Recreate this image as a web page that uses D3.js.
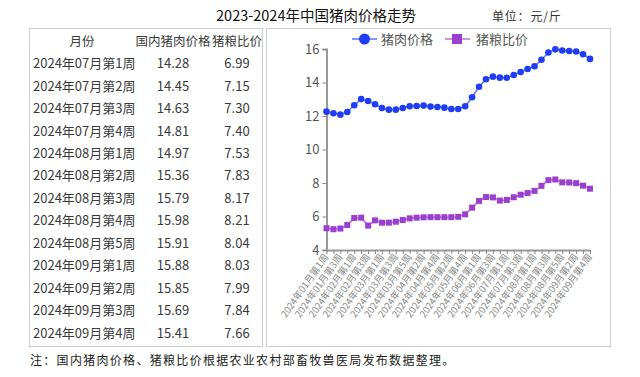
<!DOCTYPE html>
<html><head><meta charset="utf-8">
<script src="https://cdn.jsdelivr.net/npm/d3@7"></script>
<style>
html,body{margin:0;padding:0;background:#fff;}
text{font-family:"Noto Sans CJK SC","Noto Sans",sans-serif;}
</style></head>
<body><svg id="c" width="640" height="377"></svg>
<script>
const weekLabels = [
 "2024年01月第1周","2024年01月第2周","2024年01月第3周","2024年01月第4周",
 "2024年02月第1周","2024年02月第2周","2024年02月第3周","2024年02月第4周",
 "2024年03月第1周","2024年03月第2周","2024年03月第3周","2024年03月第4周","2024年03月第5周",
 "2024年04月第1周","2024年04月第2周","2024年04月第3周","2024年04月第4周",
 "2024年05月第1周","2024年05月第2周","2024年05月第3周","2024年05月第4周","2024年05月第5周",
 "2024年06月第1周","2024年06月第2周","2024年06月第3周","2024年06月第4周",
 "2024年07月第1周","2024年07月第2周","2024年07月第3周","2024年07月第4周",
 "2024年08月第1周","2024年08月第2周","2024年08月第3周","2024年08月第4周","2024年08月第5周",
 "2024年09月第1周","2024年09月第2周","2024年09月第3周","2024年09月第4周"
];
const pigPrice = [12.26,12.16,12.08,12.24,12.64,13.01,12.90,12.70,12.48,12.38,12.38,12.48,12.58,
 12.60,12.62,12.56,12.54,12.50,12.42,12.42,12.58,13.12,13.75,14.19,14.35,14.29,
 14.28,14.45,14.63,14.81,14.97,15.36,15.79,15.98,15.91,15.88,15.85,15.69,15.41];
const pigGrainRatio = [5.30,5.24,5.28,5.49,5.91,5.93,5.46,5.77,5.63,5.63,5.69,5.79,5.89,
 5.93,5.95,5.96,5.96,5.96,5.96,5.98,6.13,6.53,6.93,7.16,7.14,6.95,
 6.99,7.15,7.30,7.40,7.53,7.83,8.17,8.21,8.04,8.03,7.99,7.84,7.66];
const yTicks = [4,6,8,10,12,14,16];
const seriesNames = ["猪肉价格","猪粮比价"];

const tableHeader = ["月份","国内猪肉价格","猪粮比价"];
const tableWeeks = ["2024年07月第1周","2024年07月第2周","2024年07月第3周","2024年07月第4周",
 "2024年08月第1周","2024年08月第2周","2024年08月第3周","2024年08月第4周","2024年08月第5周",
 "2024年09月第1周","2024年09月第2周","2024年09月第3周","2024年09月第4周"];
const tablePrice = ["14.28","14.45","14.63","14.81","14.97","15.36","15.79","15.98","15.91","15.88","15.85","15.69","15.41"];
const tableRatio = ["6.99","7.15","7.30","7.40","7.53","7.83","8.17","8.21","8.04","8.03","7.99","7.84","7.66"];

const titleText = "2023-2024年中国猪肉价格走势";
const unitText = "单位：元/斤";
const noteText = "注：国内猪肉价格、猪粮比价根据农业农村部畜牧兽医局发布数据整理。";

const svg = d3.select("#c");

// title
svg.append("text").attr("x",316).attr("y",21).attr("text-anchor","middle")
  .attr("font-size",14.5).attr("fill","#111").text(titleText);
svg.append("text").attr("x",492).attr("y",21).attr("letter-spacing",0.8)
  .attr("font-size",12).attr("fill","#333").text(unitText);

// boxes
svg.append("rect").attr("x",29.5).attr("y",28.5).attr("width",233).attr("height",318)
  .attr("fill","none").attr("stroke","#cfcfcf");
svg.append("rect").attr("x",266.5).attr("y",28.5).attr("width",344).attr("height",318)
  .attr("fill","none").attr("stroke","#cfcfcf");

// table
const colX = [82,173,237];
const rowY = d3.scaleLinear().domain([0,1]).range([41.7,63.6]);
tableHeader.forEach((h,i)=>{
  svg.append("text").attr("x",colX[i]).attr("y",rowY(0)).attr("dy","0.35em")
    .attr("text-anchor","middle").attr("font-size",12.5).attr("fill","#3a3a3a").text(h);
});
const tg = svg.append("g");
tableWeeks.forEach((w,i)=>{
  const y = rowY(i+1) + i*0.55;
  tg.append("text").attr("x",33).attr("y",y).attr("dy","0.35em")
    .attr("font-size",13).attr("fill","#3a3a3a").text(w);
  tg.append("text").attr("x",colX[1]).attr("y",y).attr("dy","0.35em").attr("text-anchor","middle")
    .attr("font-size",13).attr("fill","#3a3a3a").text(tablePrice[i]);
  tg.append("text").attr("x",colX[2]).attr("y",y).attr("dy","0.35em").attr("text-anchor","middle")
    .attr("font-size",13).attr("fill","#3a3a3a").text(tableRatio[i]);
});

// chart
const x = d3.scalePoint().domain(weekLabels).range([326.5,590]).padding(0);
const y = d3.scaleLinear().domain([4,16]).range([250,49]);

const yAxis = svg.append("g").attr("transform","translate(326.5,0)")
  .call(d3.axisLeft(y).tickValues(yTicks).tickSize(4).tickPadding(3));
yAxis.select(".domain").attr("stroke","#999").attr("stroke-width",2);
yAxis.selectAll(".tick line").attr("stroke","#888");
yAxis.selectAll(".tick text").attr("font-size",13).attr("fill","#555")
  .attr("font-family","'Noto Sans','Noto Sans CJK SC',sans-serif");

const xAxis = svg.append("g").attr("transform","translate(0,250)")
  .call(d3.axisBottom(x).tickSize(4).tickSizeOuter(0).tickFormat((d,i)=> i%2===0 ? d : ""));
xAxis.select(".domain").attr("stroke","#999").attr("stroke-width",2);
xAxis.selectAll(".tick line").attr("stroke","#888");
xAxis.selectAll(".tick text").attr("font-size",9.5).attr("fill","#888")
  .attr("text-anchor","end").attr("dy",0).attr("y",0)
  .attr("transform","translate(2,7) rotate(-55)");

// lines
const blue = "#1f3df5", blueLine = "#5a72ff";
const purple = "#9a3fd0", purpleLine = "#b86ee0";
const lineGen = d3.line().x((d,i)=>x(weekLabels[i])).y(d=>y(d));
svg.append("path").datum(pigPrice).attr("d",lineGen).attr("fill","none")
  .attr("stroke",blueLine).attr("stroke-width",1.5);
svg.append("g").selectAll("circle").data(pigPrice).join("circle")
  .attr("cx",(d,i)=>x(weekLabels[i])).attr("cy",d=>y(d)).attr("r",3.3).attr("fill",blue);
svg.append("path").datum(pigGrainRatio).attr("d",lineGen).attr("fill","none")
  .attr("stroke",purpleLine).attr("stroke-width",1.5);
svg.append("g").selectAll("rect").data(pigGrainRatio).join("rect")
  .attr("x",(d,i)=>x(weekLabels[i])-3).attr("y",d=>y(d)-3).attr("width",6).attr("height",6).attr("fill",purple);

// legend
const lg = svg.append("g");
lg.append("line").attr("x1",352).attr("x2",377).attr("y1",39).attr("y2",39).attr("stroke",blueLine).attr("stroke-width",1.5);
lg.append("circle").attr("cx",364.5).attr("cy",39).attr("r",5.5).attr("fill",blue);
lg.append("text").attr("x",381).attr("y",39).attr("dy","0.35em").attr("font-size",13).attr("fill","#555").text(seriesNames[0]);
lg.append("line").attr("x1",445).attr("x2",470).attr("y1",39).attr("y2",39).attr("stroke",purpleLine).attr("stroke-width",1.5);
lg.append("rect").attr("x",452).attr("y",34).attr("width",10).attr("height",10).attr("fill",purple);
lg.append("text").attr("x",476).attr("y",39).attr("dy","0.35em").attr("font-size",13).attr("fill","#555").text(seriesNames[1]);

// note
svg.append("text").attr("x",30).attr("y",365).attr("font-size",12).attr("letter-spacing",1.3)
  .attr("fill","#222").text(noteText);
</script></body></html>
